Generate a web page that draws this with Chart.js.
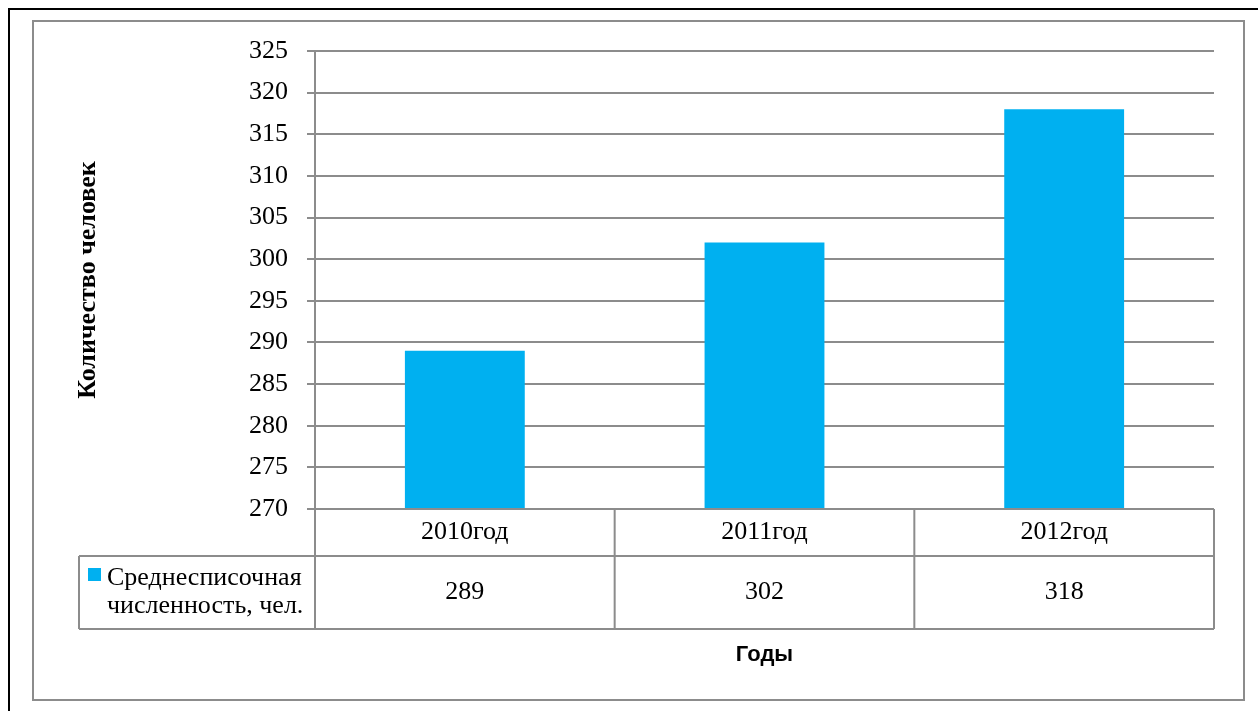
<!DOCTYPE html>
<html>
<head>
<meta charset="utf-8">
<script src="https://cdn.jsdelivr.net/npm/chart.js@4/dist/chart.umd.min.js"></script>
<style>
  body { margin: 0; background: #fff; overflow: hidden; }
  #wrap { position: relative; width: 1258px; height: 711px; }
  #outer { position: absolute; left: 8px; top: 8px; width: 1300px; height: 800px; border: 2px solid #000; }
  #inner { position: absolute; left: 32px; top: 20px; width: 1209px; height: 677px; border: 2px solid #8c8c8c; }
  #c { position: absolute; left: 0; top: 0; }
</style>
</head>
<body>
<div id="wrap">
  <div id="outer"></div>
  <div id="inner"></div>
  <canvas id="c" width="1258" height="711"></canvas>
</div>
<script>
// data
var years = ["2010год", "2011год", "2012год"];
var headcount = [289, 302, 318];
var seriesName = ["Среднесписочная", "численность, чел."];
var yMin = 270, yMax = 325, yStep = 5;

var gridColor = "#8c8c8c";
var barColor = "#00b0f0";
var serif = "'Liberation Serif', 'Times New Roman', serif";

// draws the data table under the plot (categories + values + legend key)
var tablePlugin = {
    id: "dataTable",
    afterDraw: function (chart) {
        var ctx = chart.ctx;
        var x = chart.scales.x;
        var area = chart.chartArea;
        var n = years.length;
        var colW = (area.right - area.left) / n;
        var row1 = area.bottom, row2 = area.bottom + 47, row3 = area.bottom + 120;
        var legLeft = 79;

        ctx.save();
        ctx.strokeStyle = gridColor;
        ctx.lineWidth = 2;
        ctx.beginPath();
        // horizontal lines
        ctx.moveTo(area.left, row1); ctx.lineTo(area.right, row1);
        ctx.moveTo(legLeft, row2); ctx.lineTo(area.right, row2);
        ctx.moveTo(legLeft, row3); ctx.lineTo(area.right, row3);
        // vertical lines
        for (var i = 0; i <= n; i++) {
            var xx = area.left + i * colW;
            ctx.moveTo(xx, row1); ctx.lineTo(xx, row3);
        }
        ctx.moveTo(legLeft, row2); ctx.lineTo(legLeft, row3);
        ctx.stroke();

        ctx.fillStyle = "#000";
        ctx.font = "26px " + serif;
        ctx.textAlign = "center";
        ctx.textBaseline = "middle";
        for (var j = 0; j < n; j++) {
            var cx = x.getPixelForValue(j);
            ctx.fillText(years[j], cx, (row1 + row2) / 2);
            ctx.fillText(String(headcount[j]), cx, (row2 + row3) / 2);
        }

        // legend key
        ctx.fillStyle = barColor;
        ctx.fillRect(88, row2 + 12, 13, 13);
        ctx.fillStyle = "#000";
        ctx.textAlign = "left";
        ctx.fillText(seriesName[0], 107, row2 + 22);
        ctx.fillText(seriesName[1], 107, row2 + 50);

        // x axis title
        ctx.font = "bold 22px 'Liberation Sans', Arial, sans-serif";
        ctx.textAlign = "center";
        ctx.fillText("Годы", (area.left + area.right) / 2, 655);
        ctx.restore();
    }
};

var ctx = document.getElementById("c");
var chart = new Chart(ctx, {
    type: "bar",
    data: {
        labels: years,
        datasets: [{
            label: seriesName.join(" "),
            data: headcount,
            backgroundColor: barColor,
            barPercentage: 0.4,
            categoryPercentage: 1
        }]
    },
    options: {
        responsive: false,
        animation: false,
        layout: { padding: { left: 33, top: 51, right: 44, bottom: 202 } },
        plugins: { legend: { display: false }, tooltip: { enabled: false } },
        scales: {
            x: { display: false },
            y: {
                min: yMin,
                max: yMax,
                afterFit: function (scale) { scale.width = 282; },
                ticks: {
                    stepSize: yStep,
                    color: "#000",
                    padding: 19,
                    font: { size: 26, family: serif }
                },
                grid: { color: gridColor, lineWidth: 2, tickLength: 8 },
                border: { color: gridColor, width: 2 },
                title: {
                    display: true,
                    text: "Количество человек",
                    color: "#000",
                    font: { size: 26, weight: "bold", family: serif },
                    padding: { top: 40, bottom: 0 }
                }
            }
        }
    },
    plugins: [tablePlugin]
});
</script>
</body>
</html>
